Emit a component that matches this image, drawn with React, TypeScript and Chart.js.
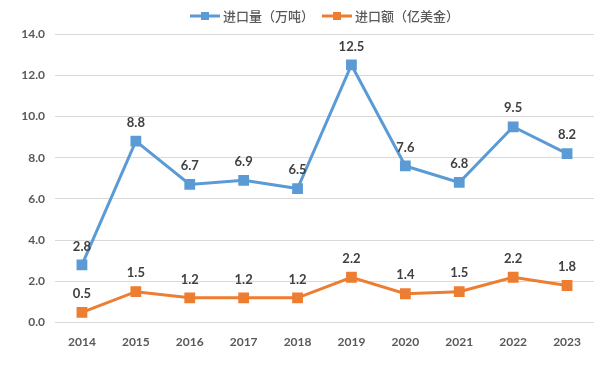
import React, { useEffect, useRef } from "react";
import { Chart, registerables } from "chart.js";

Chart.register(...registerables);

const years = ["2014", "2015", "2016", "2017", "2018", "2019", "2020", "2021", "2022", "2023"];
const volumeLabel = "进口量（万吨）";
const valueLabel = "进口额（亿美金）";
const volume = [2.8, 8.8, 6.7, 6.9, 6.5, 12.5, 7.6, 6.8, 9.5, 8.2];
const amount = [0.5, 1.5, 1.2, 1.2, 1.2, 2.2, 1.4, 1.5, 2.2, 1.8];

const BLUE = "#5B9BD5";
const ORANGE = "#ED7D31";
const TEXT = "#595959";
const NUMFONT = "Lato, 'Open Sans', sans-serif";

const labelPlugin = {
  id: "pointLabels",
  afterDatasetsDraw(chart: any) {
    const ctx = chart.ctx;
    ctx.save();
    ctx.font = `bold 13px ${NUMFONT}`;
    ctx.fillStyle = "#404040";
    ctx.textAlign = "center";
    ctx.textBaseline = "bottom";
    chart.data.datasets.forEach((ds: any, i: number) => {
      const meta = chart.getDatasetMeta(i);
      meta.data.forEach((pt: any, j: number) => {
        ctx.fillText(Number(ds.data[j]).toFixed(1), pt.x, pt.y - 12);
      });
    });
    ctx.restore();
  },
};

const legendPlugin = {
  id: "customLegend",
  afterDraw(chart: any) {
    const ctx = chart.ctx;
    ctx.save();
    ctx.font = `500 13px 'Noto Sans CJK SC', sans-serif`;
    ctx.textBaseline = "middle";
    const y = 16;
    let x = 190;
    chart.data.datasets.forEach((ds: any) => {
      ctx.strokeStyle = ds.borderColor;
      ctx.lineWidth = 3;
      ctx.beginPath();
      ctx.moveTo(x, y);
      ctx.lineTo(x + 30, y);
      ctx.stroke();
      ctx.fillStyle = ds.borderColor;
      ctx.fillRect(x + 11, y - 4, 8, 8);
      ctx.fillStyle = TEXT;
      ctx.textAlign = "left";
      ctx.fillText(ds.label, x + 33, y);
      x += 33 + ctx.measureText(ds.label).width + 8;
    });
    ctx.restore();
  },
};

export default function App() {
  const ref = useRef<HTMLCanvasElement>(null);
  useEffect(() => {
    document.body.style.margin = "0";
    const chart = new Chart(ref.current!, {
      type: "line",
      data: {
        labels: years,
        datasets: [
          {
            label: volumeLabel,
            data: volume,
            borderColor: BLUE,
            backgroundColor: BLUE,
            borderWidth: 3,
            pointStyle: "rect",
            pointRadius: 5.5,
            pointHoverRadius: 5.5,
            tension: 0,
            clip: false,
          },
          {
            label: valueLabel,
            data: amount,
            borderColor: ORANGE,
            backgroundColor: ORANGE,
            borderWidth: 3,
            pointStyle: "rect",
            pointRadius: 5.5,
            pointHoverRadius: 5.5,
            tension: 0,
            clip: false,
          },
        ],
      },
      options: {
        animation: false,
        responsive: false,
        layout: { autoPadding: false, padding: { top: 34, left: 0, right: 0, bottom: 14 } },
        plugins: {
          legend: { display: false },
          tooltip: { enabled: false },
        },
        scales: {
          x: {
            offset: true,
            afterFit(scale: any) {
              scale.paddingRight = 0;
              scale.paddingLeft = 0;
            },
            grid: { display: false, drawTicks: false },
            border: { display: false },
            ticks: {
              color: TEXT,
              font: { family: NUMFONT, size: 12, weight: "bold" },
              padding: 12,
              maxRotation: 0,
            },
          },
          y: {
            min: 0,
            max: 14,
            afterFit(scale: any) {
              scale.width = 55;
            },
            grid: { color: "#D9D9D9", drawTicks: false },
            border: { display: false },
            ticks: {
              stepSize: 2,
              color: TEXT,
              font: { family: NUMFONT, size: 12, weight: "bold" },
              padding: 10,
              callback: (v: any) => Number(v).toFixed(1),
            },
          },
        },
      },
      plugins: [labelPlugin, legendPlugin],
    });
    return () => chart.destroy();
  }, []);
  return (
    <div style={{ width: 594, height: 375 }}>
      <canvas ref={ref} width={594} height={375} />
    </div>
  );
}
